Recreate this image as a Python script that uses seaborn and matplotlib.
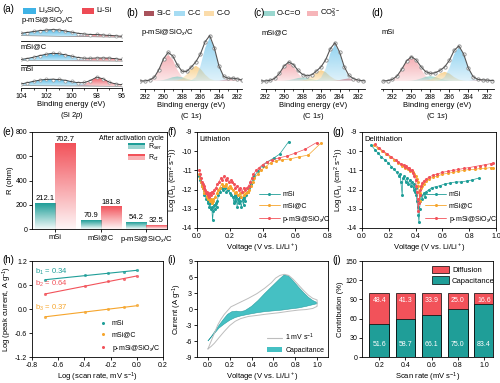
import numpy as np
import pandas as pd
import seaborn as sns
import matplotlib.pyplot as plt
import matplotlib.colors as mcolors
import matplotlib.ticker as mticker
from matplotlib.patches import Polygon, Rectangle, Patch
from matplotlib.lines import Line2D

# ---------------- data ----------------
# (a) Si 2p, binding energy grid (eV) and fitted parts for the three samples
si_e = [104, 103.5, 103, 102.5, 102, 101.5, 101, 100.5, 100, 99.5, 99, 98.5, 98, 97.5, 97, 96.5, 96]
a1_bg = [16, 15.7, 15.4, 15.1, 14.8, 14.5, 14.2, 13.9, 13.6, 13.3, 13.0, 12.7, 12.4, 12.1, 11.8, 11.5, 11.2]
a1_lisio = [7, 10, 13, 16, 18, 19.5, 19, 16, 12, 8, 4, 2, 1, 0, 0, 0, 0]
a1_lisi = [0, 0, 0, 0, 0, 0, 0, 0, 1, 2, 4, 5, 6, 6, 5, 4, 3]
a1_raw = [24, 25, 29, 30, 34, 33, 34, 29, 27, 22, 22, 19, 21, 17, 18, 15, 14]
a2_bg = [12, 11.9, 11.8, 11.6, 11.5, 11.4, 11.2, 11.1, 11.0, 10.9, 10.8, 10.6, 10.5, 10.4, 10.2, 10.1, 10.0]
a2_lisio = [3, 6, 10, 15, 19, 22, 21, 18, 13, 8, 4, 2, 1, 0, 0, 0, 0]
a2_lisi = [0, 0, 0, 0, 0, 0, 0, 0, 1, 2, 4, 6, 8, 9, 9, 7, 5]
a2_raw = [16, 17, 23, 26, 31, 33, 33, 28, 26, 20, 20, 18, 20, 19, 20, 16, 15]
a3_bg = [7, 6.9, 6.8, 6.6, 6.5, 6.4, 6.2, 6.1, 6.0, 5.9, 5.8, 5.6, 5.5, 5.4, 5.2, 5.1, 5.0]
a3_lisio = [5, 9, 13, 17, 19, 20, 19, 17, 13, 9, 5, 2, 1, 0, 0, 0, 0]
a3_lisi = [0, 0, 0, 0, 0, 0, 0, 0, 0, 1, 5, 15, 26, 22, 12, 7, 5]
a3_raw = [13, 15, 21, 23, 26, 25, 26, 22, 20, 15, 17, 22, 33, 28, 18, 12, 10]

# (b)-(d) C 1s components
c1s_e = [293, 292.5, 292, 291.5, 291, 290.5, 290, 289.5, 289, 288.5, 288, 287.5, 287,
         286.5, 286, 285.5, 285, 284.5, 284, 283.5, 283, 282.5, 282, 281.5, 281]
b_sic = [0, 0, 0, 0, 0, 0, 0, 0, 0, 0, 0, 0, 0, 0, 0, 0, 0, 0, 0.7, 2.7, 6, 8, 6, 2.7, 0.7]
b_cc = [0, 0, 0, 0, 0, 0, 0, 0, 0, 0, 0, 0, 1.7, 11, 44, 97, 128, 97, 44, 11, 1.7, 0, 0, 0, 0]
b_co = [0, 0, 0, 0, 0, 0, 0, 0, 0, 1.5, 6.6, 19, 36, 45, 36, 19, 6.6, 1.5, 0, 0, 0, 0, 0, 0, 0]
b_oco = [0, 0, 0, 0, 0, 0.8, 2.7, 6.5, 11, 13, 11, 6.5, 2.7, 0.8, 0, 0, 0, 0, 0, 0, 0, 0, 0, 0, 0]
b_co3 = [0, 0, 0, 2.6, 11, 33, 63, 78, 63, 33, 11, 2.6, 0.4, 0, 0, 0, 0, 0, 0, 0, 0, 0, 0, 0, 0]
c_sic = [0, 0, 0, 0, 0, 0, 0, 0, 0, 0, 0, 0, 0, 0, 0, 0, 0, 0.6, 2.4, 5.3, 7, 5.3, 2.4, 0.6, 0]
c_cc = [0, 0, 0, 0, 0, 0, 0, 0, 0, 0, 0, 0, 0, 1.4, 9.4, 37, 82, 108, 82, 37, 9.4, 1.4, 0, 0, 0]
c_co = [0, 0, 0, 0, 0, 0, 0, 0, 0, 0, 1.1, 4.7, 13.4, 26, 32, 26, 13.4, 4.7, 1.1, 0, 0, 0, 0, 0, 0]
c_oco = [0, 0, 0, 0, 0, 0, 0.6, 2.1, 5, 8.4, 10, 8.4, 5, 2.1, 0.6, 0, 0, 0, 0, 0, 0, 0, 0, 0, 0]
c_co3 = [0, 0, 0, 1.8, 7.9, 22.7, 43.7, 54, 43.7, 22.7, 7.9, 1.8, 0, 0, 0, 0, 0, 0, 0, 0, 0, 0, 0, 0, 0]
d_sic = [0, 0, 0, 0, 0, 0, 0, 0, 0, 0, 0, 0, 0, 0, 0, 0, 0, 0, 0, 1, 2.3, 3, 2.3, 1, 0]
d_cc = [0, 0, 0, 0, 0, 0, 0, 0, 0, 0, 0, 0, 2.1, 11.6, 38, 79, 100, 79, 38, 11.6, 2.1, 0, 0, 0, 0]
d_co = [0, 0, 0, 0, 0, 0, 0, 0, 0, 0.9, 3.9, 11.3, 21.9, 27, 21.9, 11.3, 3.9, 0.9, 0, 0, 0, 0, 0, 0, 0]
d_oco = [0, 0, 0, 0, 0, 0, 0.9, 2.9, 7, 11.8, 14, 11.8, 7, 2.9, 0.9, 0, 0, 0, 0, 0, 0, 0, 0, 0, 0]
d_co3 = [0, 0.9, 4.4, 14.9, 35.5, 59.6, 71, 59.6, 35.5, 14.9, 4.4, 0.9, 0, 0, 0, 0, 0, 0, 0, 0, 0, 0, 0, 0, 0]

# (e) resistances after activation cycle
e_cats = ['mSi', 'mSi@C', 'p-mSi@SiO$_x$/C']
e_rser = [212.1, 70.9, 54.2]
e_rct = [702.7, 181.8, 32.5]

# (f) GITT lithiation (V, log D)
f_msi = [(0.56, -9.5), (0.505, -10.15), (0.47, -10.35), (0.43, -10.55), (0.40, -10.75), (0.37, -11.05),
         (0.35, -11.3), (0.34, -11.45), (0.33, -11.7), (0.32, -11.9), (0.31, -12.1), (0.30, -12.3),
         (0.295, -12.6), (0.29, -12.4), (0.285, -12.8), (0.28, -12.5), (0.27, -12.9), (0.265, -12.6),
         (0.26, -12.4), (0.255, -12.7), (0.25, -12.5), (0.245, -12.9), (0.24, -12.4), (0.235, -12.6),
         (0.23, -12.3), (0.225, -12.7), (0.22, -12.4), (0.21, -12.3), (0.20, -12.2), (0.19, -12.0),
         (0.18, -12.1), (0.17, -11.9), (0.16, -12.0), (0.15, -11.9), (0.14, -12.1), (0.13, -12.3),
         (0.125, -12.6), (0.12, -12.9), (0.115, -12.7), (0.11, -13.0), (0.105, -12.8), (0.10, -13.1),
         (0.095, -13.6), (0.09, -12.9), (0.085, -13.0), (0.08, -12.7), (0.075, -12.9), (0.07, -12.6),
         (0.065, -12.7), (0.06, -12.4), (0.055, -12.5), (0.05, -12.2), (0.045, -12.3), (0.04, -12.0),
         (0.035, -11.9), (0.03, -11.8), (0.025, -11.6), (0.02, -11.5), (0.015, -11.3)]
f_msic = [(0.76, -9.55), (0.68, -10.2), (0.62, -10.3), (0.57, -10.4), (0.52, -10.45), (0.48, -10.5),
          (0.45, -10.6), (0.42, -10.8), (0.39, -11.0), (0.37, -11.2), (0.35, -11.4), (0.34, -11.6),
          (0.33, -11.8), (0.32, -12.0), (0.31, -12.1), (0.30, -12.2), (0.29, -12.3), (0.28, -12.1),
          (0.27, -12.4), (0.26, -12.2), (0.25, -12.3), (0.24, -12.1), (0.23, -12.2), (0.22, -12.0),
          (0.21, -11.9), (0.20, -11.8), (0.19, -11.9), (0.18, -11.7), (0.17, -11.8), (0.16, -11.8),
          (0.15, -11.7), (0.14, -11.9), (0.13, -12.0), (0.12, -12.2), (0.11, -12.4), (0.10, -12.6),
          (0.095, -12.5), (0.09, -12.7), (0.085, -12.5), (0.08, -12.6), (0.075, -12.4), (0.07, -12.5),
          (0.065, -12.3), (0.06, -12.4), (0.055, -12.2), (0.05, -12.1), (0.045, -12.2), (0.04, -12.0),
          (0.035, -11.9), (0.03, -11.8), (0.025, -11.6), (0.02, -11.4), (0.015, -11.2)]
f_pm = [(0.73, -9.55), (0.66, -9.9), (0.60, -10.1), (0.55, -10.25), (0.50, -10.35), (0.46, -10.45),
        (0.43, -10.55), (0.40, -10.7), (0.38, -10.85), (0.36, -11.0), (0.345, -11.2), (0.335, -11.4),
        (0.325, -11.6), (0.315, -11.8), (0.305, -11.9), (0.295, -12.0), (0.285, -11.9), (0.275, -12.1),
        (0.265, -11.9), (0.255, -12.0), (0.245, -11.8), (0.235, -11.9), (0.225, -11.7), (0.215, -11.6),
        (0.205, -11.5), (0.195, -11.6), (0.185, -11.4), (0.175, -11.5), (0.165, -11.3), (0.155, -11.5),
        (0.145, -11.4), (0.135, -11.6), (0.125, -11.7), (0.115, -11.9), (0.105, -12.0), (0.095, -12.2),
        (0.09, -12.1), (0.085, -12.3), (0.08, -12.2), (0.075, -12.4), (0.07, -12.2), (0.065, -12.3),
        (0.06, -12.1), (0.055, -12.2), (0.05, -12.0), (0.045, -11.9), (0.04, -11.8), (0.035, -11.7),
        (0.03, -11.6), (0.025, -11.4), (0.02, -11.2), (0.015, -11.0)]

# (g) GITT delithiation (V, log D)
g_msi = [(0.07, -9.7), (0.10, -9.95), (0.12, -10.1), (0.145, -10.3), (0.17, -10.45), (0.195, -10.6),
         (0.22, -10.8), (0.24, -10.95), (0.26, -11.1), (0.275, -11.3), (0.285, -11.2), (0.29, -11.6),
         (0.30, -12.3), (0.305, -11.4), (0.315, -11.3), (0.325, -11.6), (0.335, -11.4), (0.345, -11.7),
         (0.355, -11.5), (0.365, -11.8), (0.375, -11.6), (0.385, -12.0), (0.39, -11.7), (0.395, -12.1),
         (0.40, -11.9), (0.405, -12.3), (0.41, -12.6), (0.415, -12.9), (0.42, -13.3), (0.425, -13.7),
         (0.43, -13.0), (0.435, -12.6), (0.44, -12.3), (0.45, -12.5), (0.46, -12.2), (0.47, -12.4),
         (0.48, -12.1), (0.50, -12.0), (0.52, -11.9), (0.55, -11.85), (0.58, -11.8), (0.62, -11.7),
         (0.66, -11.65), (0.70, -11.6), (0.74, -11.6), (0.78, -11.55), (0.82, -11.5), (0.87, -11.4)]
g_msic = [(0.09, -9.7), (0.12, -9.85), (0.15, -10.0), (0.18, -10.15), (0.21, -10.3), (0.24, -10.45),
          (0.27, -10.6), (0.30, -10.75), (0.32, -10.85), (0.34, -10.95), (0.36, -11.05), (0.38, -11.1),
          (0.39, -11.2), (0.40, -11.3), (0.41, -11.45), (0.415, -11.6), (0.42, -11.8), (0.425, -12.1),
          (0.43, -12.6), (0.435, -12.2), (0.44, -11.9), (0.45, -11.8), (0.46, -11.7), (0.48, -11.55),
          (0.50, -11.45), (0.53, -11.35), (0.56, -11.3), (0.60, -11.2), (0.64, -11.15), (0.68, -11.1),
          (0.72, -11.05), (0.76, -11.0), (0.80, -10.95), (0.84, -10.95), (0.88, -10.9), (0.92, -10.9),
          (0.96, -10.85), (0.98, -10.85)]
g_pm = [(0.095, -9.65), (0.13, -9.85), (0.16, -10.0), (0.19, -10.15), (0.22, -10.3), (0.25, -10.45),
        (0.27, -10.55), (0.29, -10.65), (0.31, -10.7), (0.32, -10.8), (0.33, -10.75), (0.34, -10.9),
        (0.35, -10.85), (0.36, -11.0), (0.37, -11.0), (0.38, -11.15), (0.39, -11.3), (0.40, -11.5),
        (0.405, -11.8), (0.41, -12.1), (0.415, -12.5), (0.42, -13.1), (0.425, -12.7), (0.43, -12.3),
        (0.435, -12.0), (0.44, -11.8), (0.45, -11.65), (0.46, -11.55), (0.48, -11.45), (0.50, -11.35),
        (0.53, -11.25), (0.56, -11.2), (0.60, -11.1), (0.64, -11.05), (0.68, -11.0), (0.72, -10.95),
        (0.76, -10.9), (0.80, -10.85), (0.84, -10.8), (0.88, -10.75), (0.92, -10.7), (0.96, -10.65),
        (0.98, -10.6)]

# (h) peak current vs scan rate
h_rate = [0.2, 0.4, 0.6, 0.8, 1.0]
h_msi = [0.73, 0.84, 0.89, 0.93, 0.97]
h_msic = [-0.19, -0.08, -0.01, 0.04, 0.09]
h_pm = [0.37, 0.58, 0.69, 0.76, 0.82]

# (i) CV at 1 mV/s and capacitive part
cv_up_v = [0.0, 0.03, 0.06, 0.09, 0.12, 0.15, 0.18, 0.21, 0.25, 0.30, 0.37, 0.45, 0.52, 0.58, 0.62,
           0.66, 0.70, 0.74, 0.78, 0.83, 0.88, 0.92, 0.96, 1.0]
cv_up_i = [-7.5, -6.0, -4.5, -3.0, -1.9, -1.0, -0.3, 0.4, 0.8, 1.3, 2.0, 2.9, 3.9, 4.9, 5.8,
           6.3, 6.5, 6.3, 5.6, 4.5, 3.4, 2.6, 2.0, 1.7]
cv_dn_v = [1.0, 0.96, 0.9, 0.83, 0.75, 0.65, 0.52, 0.45, 0.37, 0.30, 0.25, 0.20, 0.15, 0.10, 0.06, 0.03, 0.0]
cv_dn_i = [0.5, 0.1, -0.1, -0.2, -0.4, -0.7, -1.0, -1.2, -1.4, -1.8, -2.3, -3.1, -4.2, -5.4, -6.4, -7.0, -7.5]
cap_up_v = [0.0, 0.03, 0.06, 0.10, 0.14, 0.18, 0.22, 0.26, 0.30, 0.34, 0.40, 0.46, 0.52, 0.57, 0.62,
            0.66, 0.70, 0.74, 0.78, 0.83, 0.88, 0.92, 0.96, 1.0]
cap_up_i = [-6.0, -5.2, -4.3, -3.1, -2.0, -1.0, -0.5, -0.4, -0.5, -0.3, 0.5, 1.6, 2.9, 3.9, 4.9,
            5.7, 6.4, 6.2, 5.3, 4.1, 3.0, 2.2, 1.6, 1.2]
cap_dn_v = [1.0, 0.96, 0.9, 0.83, 0.75, 0.68, 0.6, 0.52, 0.45, 0.37, 0.30, 0.25, 0.20, 0.15, 0.10, 0.06, 0.03, 0.0]
cap_dn_i = [1.0, 0.8, 0.5, 0.2, 0.0, -0.2, -0.35, -0.5, -0.7, -1.0, -1.3, -1.6, -2.1, -2.8, -3.6, -4.6, -5.3, -6.0]

# (j) contribution ratio
j_rate = ['0.2', '0.4', '0.6', '0.8', '1.0']
j_cap = [51.6, 58.7, 66.1, 75.0, 83.4]
j_dif = [48.4, 41.3, 33.9, 25.0, 16.6]

# ---------------- style ----------------
TEAL = '#1f9e98'
RED = '#f2525a'
ORANGE = '#f6a52c'
BLUE_A = '#3fb3e6'
RED_A = '#ee4b55'
C_SIC, C_CC, C_CO, C_OCO, C_CO3 = '#c2606a', '#7fcbee', '#f7c978', '#86cfc6', '#f3a0a6'

sns.set_theme(style='ticks')
plt.rcParams['font.family'] = ['Liberation Sans', 'DejaVu Sans']
plt.rcParams.update({
    'mathtext.fontset': 'custom', 'mathtext.rm': 'Liberation Sans',
    'mathtext.it': 'Liberation Sans:italic', 'mathtext.bf': 'Liberation Sans:bold',
    'axes.linewidth': 0.6, 'axes.edgecolor': 'black', 'text.color': 'black',
    'axes.labelcolor': 'black', 'xtick.color': 'black', 'ytick.color': 'black',
    'xtick.major.width': 0.6, 'ytick.major.width': 0.6, 'xtick.minor.width': 0.5,
    'xtick.major.size': 2, 'ytick.major.size': 2, 'xtick.minor.size': 1.2,
    'xtick.labelsize': 5, 'ytick.labelsize': 5, 'axes.labelsize': 5.5,
    'xtick.major.pad': 1.5, 'ytick.major.pad': 1.5, 'axes.labelpad': 1,
    'legend.fontsize': 5, 'axes.unicode_minus': False,
})

W, H = 500, 383
fig = plt.figure(figsize=(5, 3.83), dpi=100)


def add_ax(x0, y0, x1, y1):
    return fig.add_axes([x0 / W, 1 - y1 / H, (x1 - x0) / W, (y1 - y0) / H])


def ftext(x, y, s, **kw):
    kw.setdefault('fontsize', 5)
    kw.setdefault('va', 'center')
    fig.text(x / W, 1 - y / H, s, **kw)


def frect(x0, y0, x1, y1, color):
    fig.add_artist(Rectangle((x0 / W, 1 - y1 / H), (x1 - x0) / W, (y1 - y0) / H,
                             transform=fig.transFigure, facecolor=color, edgecolor='none'))


def grad_fill(ax, x, lo, hi, color, top=0.95, bot=0.2, z=2):
    x = np.asarray(x, float)
    lo = np.asarray(lo, float)
    hi = np.asarray(hi, float)
    verts = np.concatenate([np.column_stack([x, hi]), np.column_stack([x[::-1], lo[::-1]])])
    poly = Polygon(verts, closed=True, facecolor='none', edgecolor='none')
    ax.add_patch(poly)
    img = np.zeros((64, 1, 4))
    img[..., :3] = mcolors.to_rgb(color)
    img[:, 0, 3] = np.linspace(top, bot, 64)
    im = ax.imshow(img, extent=[x.min(), x.max(), lo.min(), hi.max()], aspect='auto',
                   origin='upper', zorder=z, interpolation='bilinear')
    im.set_clip_path(poly)


def grad_box(ax, x0, x1, y0, y1, color, top=1.0, bot=0.06, z=2):
    img = np.zeros((64, 1, 4))
    img[..., :3] = mcolors.to_rgb(color)
    img[:, 0, 3] = np.linspace(top, bot, 64)
    ax.imshow(img, extent=[x0, x1, y0, y1], aspect='auto', origin='upper', zorder=z,
              interpolation='bilinear', clip_on=False)


def only_bottom(ax):
    for s in ['top', 'left', 'right']:
        ax.spines[s].set_visible(False)
    ax.set_yticks([])
    ax.set_facecolor('none')


# ---------------- (a) Si 2p ----------------
a_axes = [add_ax(21, 16, 122, 41), add_ax(21, 41, 122, 64.5), add_ax(21, 64.5, 122, 88)]
a_sets = [(a1_bg, a1_lisio, a1_lisi, a1_raw, 'p-mSi@SiO$_x$/C', 75, 0.8),
          (a2_bg, a2_lisio, a2_lisi, a2_raw, 'mSi@C', 70, 0.745),
          (a3_bg, a3_lisio, a3_lisi, a3_raw, 'mSi', 70, 0.77)]
for k, (ax, (bg, bl, rd, raw, name, top, ly)) in enumerate(zip(a_axes, a_sets)):
    ax.set_xlim(104, 96)
    ax.set_ylim(0, top)
    bg, bl, rd = np.array(bg), np.array(bl), np.array(rd)
    grad_fill(ax, si_e, bg, bg + bl, BLUE_A, top=0.95, bot=0.25)
    grad_fill(ax, si_e, bg, bg + rd, RED_A, top=0.95, bot=0.25)
    ax.plot(si_e, bg, color='#777777', lw=0.4, zorder=3)
    ax.plot(si_e, raw, 'o', ms=2.3, mfc='white', mec='#9a9a9a', mew=0.5, zorder=4)
    ax.plot(si_e, bg + bl + rd, color='#333333', lw=0.6, zorder=5)
    only_bottom(ax)
    ax.text(0.0, ly, name, transform=ax.transAxes, fontsize=5.5, va='center')
    ax.xaxis.set_major_locator(mticker.MultipleLocator(2))
    ax.xaxis.set_minor_locator(mticker.MultipleLocator(1))
    if k < 2:
        ax.tick_params(axis='x', which='both', bottom=False, labelbottom=False)
a_axes[2].set_xlabel('Binding energy (eV)\n(Si 2$\\it{p}$)', linespacing=1.25)

ftext(2, 9, '(a)', fontsize=7)
frect(23, 8, 36, 14, BLUE_A)
ftext(38, 11, 'Li$_x$SiO$_y$', fontsize=5.5)
frect(82, 8, 94, 14, RED_A)
ftext(96, 11, 'Li-Si', fontsize=5.5)

# ---------------- (b)-(d) C 1s ----------------
c_cols = [C_CO3, C_OCO, C_CO, C_CC, C_SIC]
panels = [((140, 27, 242, 89), (292.55, 281.5), [b_co3, b_oco, b_co, b_cc, b_sic], 'p-mSi@SiO$_x$/C', 141),
          ((261, 27, 365, 89), (292.5, 281.25), [c_co3, c_oco, c_co, c_cc, c_sic], 'mSi@C', 262),
          ((381, 27, 494, 89), (293.2, 281.3), [d_co3, d_oco, d_co, d_cc, d_sic], 'mSi', 382)]
zero = np.zeros(len(c1s_e))
for rect, xl, comps, name, lx in panels:
    ax = add_ax(*rect)
    ax.set_xlim(*xl)
    ax.set_ylim(-24, 160)
    for comp, col in zip(comps, c_cols):
        grad_fill(ax, c1s_e, zero, comp, col, top=0.85, bot=0.25)
    env = np.sum(np.array(comps), axis=0)
    ax.plot(c1s_e, env, 'o', ms=2.4, mfc='white', mec='#8a8a8a', mew=0.6, zorder=4)
    ax.plot(c1s_e, env, color='#555555', lw=0.8, zorder=5)
    only_bottom(ax)
    ax.xaxis.set_major_locator(mticker.MultipleLocator(2))
    ax.xaxis.set_minor_locator(mticker.MultipleLocator(1))
    ax.tick_params(axis='x', labelsize=4.8)
    ax.set_xlabel('Binding energy (eV)\n(C 1$\\it{s}$)', linespacing=1.25)
    ftext(lx, 33, name, fontsize=5.5)

ftext(126, 13, '(b)', fontsize=7)
frect(144, 11, 154, 16, '#a9525b')
ftext(157, 13.5, 'Si-C', fontsize=5.5)
frect(174, 11, 185, 16, '#a6dcf3')
ftext(188, 13.5, 'C-C', fontsize=5.5)
frect(204, 11, 214, 16, '#fbdcaa')
ftext(217, 13.5, 'C-O', fontsize=5.5)
ftext(253, 13, '(c)', fontsize=7)
frect(263, 11, 275, 16, '#9ad7cf')
ftext(277, 13.5, 'O-C=O', fontsize=5.5)
frect(307, 11, 318, 16, '#f6b5b9')
ftext(320, 13.5, 'CO$_3^{2-}$', fontsize=5.5)
ftext(371, 13, '(d)', fontsize=7)

# ---------------- (e) resistance ----------------
ax = add_ax(32, 132, 167, 229)
e_pos = np.arange(len(e_cats))
ax.set_xlim(-0.5, 2.45)
ax.set_ylim(0, 800)
bw = 0.44
for p, rs, rc in zip(e_pos, e_rser, e_rct):
    grad_box(ax, p - bw, p, 0, rs, TEAL)
    grad_box(ax, p, p + bw, 0, rc, RED)
    ax.text(p - bw / 2, rs + 8, f'{rs}', ha='center', va='bottom', fontsize=5.5)
    ax.text(p + bw / 2, rc + 8, f'{rc}', ha='center', va='bottom', fontsize=5.5)
ax.set_xticks(e_pos)
ax.set_xticklabels(e_cats)
ax.yaxis.set_major_locator(mticker.MultipleLocator(200))
ax.set_ylabel('R (ohm)')
ax.tick_params(axis='x', labelsize=5.5)
ftext(2, 132, '(e)', fontsize=7)
ftext(164, 139, 'After activation cycle', fontsize=5, ha='right')
frect(128, 143, 145, 145, TEAL)
frect(128, 145, 145, 149, '#9bd3cf')
ftext(148, 147, 'R$_{ser}$', fontsize=5)
frect(128, 154, 145, 156, RED)
frect(128, 156, 145, 160, '#f9b1b4')
ftext(148, 158, 'R$_{ct}$', fontsize=5)

# ---------------- (f), (g) GITT ----------------
gitt_cols = [TEAL, ORANGE, RED]
gitt_names = ['mSi', 'mSi@C', 'p-mSi@SiO$_x$/C']


def gitt(ax, sets, xmax, title):
    for z, (pairs, col) in enumerate(zip(sets, gitt_cols)):
        df = pd.DataFrame(pairs, columns=['v', 'd'])
        sns.lineplot(data=df, x='v', y='d', ax=ax, sort=False, estimator=None, color=col,
                     lw=0.5, marker='o', markersize=2.2, markeredgewidth=0, zorder=3 + z)
    ax.set_xlim(0, xmax)
    ax.set_ylim(-14, -9)
    ax.xaxis.set_major_locator(mticker.MultipleLocator(0.2))
    ax.yaxis.set_major_locator(mticker.MultipleLocator(1))
    ax.set_xlabel('Voltage (V vs. Li/Li$^+$)')
    ax.set_ylabel('Log (D$_{\\rm Li}$ (cm$^2$ s$^{-1}$))')
    ax.text(0.02, 0.92, title, transform=ax.transAxes, fontsize=5.5, va='center')
    hs = [Line2D([], [], color=c, lw=0.6, marker='o', ms=2.2, mew=0) for c in gitt_cols]
    ax.legend(hs, gitt_names, loc='lower left', bbox_to_anchor=(0.44, -0.01), frameon=False,
              handlelength=3, handletextpad=0.4, labelspacing=0.6, borderaxespad=0.2)


ax_f = add_ax(197, 132, 328, 228)
gitt(ax_f, [f_msi, f_msic, f_pm], 0.8, 'Lithiation')
ax_g = add_ax(362, 132, 496, 228)
gitt(ax_g, [g_msi, g_msic, g_pm], 1.0, 'Delithiation')
ftext(167, 132, '(f)', fontsize=7)
ftext(332, 132, '(g)', fontsize=7)

# ---------------- (h) b-values ----------------
ax = add_ax(32, 261, 163, 357)
h_logv = np.log10(h_rate)
for ys, col in zip([h_msi, h_msic, h_pm], gitt_cols):
    sns.regplot(x=h_logv, y=ys, ax=ax, ci=None, truncate=True, color=col,
                scatter_kws=dict(s=5, linewidths=0), line_kws=dict(lw=0.8))
ax.set_xlim(-0.8, 0.2)
ax.set_ylim(-1.2, 1.2)
ax.xaxis.set_major_locator(mticker.MultipleLocator(0.2))
ax.yaxis.set_major_locator(mticker.MultipleLocator(0.6))
ax.set_xlabel('Log (scan rate, mV s$^{-1}$)')
ax.set_ylabel('Log (peak current, A g$^{-1}$)')
hs = [Line2D([], [], color=c, lw=0, marker='o', ms=2.2, mew=0) for c in gitt_cols]
ax.legend(hs, gitt_names, loc='lower left', bbox_to_anchor=(0.48, -0.01), frameon=False,
          handlelength=1.2, handletextpad=0.6, labelspacing=0.6, borderaxespad=0.2)
ftext(2, 260, '(h)', fontsize=7)
ftext(35, 272, 'b$_1$ = 0.34', color=TEAL, fontsize=5.5)
ftext(35, 284, 'b$_2$ = 0.64', color=RED, fontsize=5.5)
ftext(35, 308, 'b$_3$ = 0.37', color=ORANGE, fontsize=5.5)

# ---------------- (i) CV ----------------
ax = add_ax(197, 261, 328, 357)
cap_v = list(cap_up_v) + list(cap_dn_v)
cap_i = list(cap_up_i) + list(cap_dn_i)
ax.fill(cap_v, cap_i, facecolor='#45c0c3', edgecolor='#2a9fa2', lw=0.4, zorder=2)
sns.lineplot(x=list(cv_up_v) + list(cv_dn_v), y=list(cv_up_i) + list(cv_dn_i), ax=ax, sort=False,
             estimator=None, color='#bdbdbd', lw=0.7, zorder=3)
ax.set_xlim(-0.1, 1.1)
ax.set_ylim(-9, 9)
ax.xaxis.set_major_locator(mticker.MultipleLocator(0.2))
ax.yaxis.set_major_locator(mticker.MultipleLocator(3))
ax.set_xlabel('Voltage (V vs. Li/Li$^+$)')
ax.set_ylabel('Current (A g$^{-1}$)')
hs = [Line2D([], [], color='#bdbdbd', lw=0.8), Patch(facecolor='#45c0c3', edgecolor='none')]
ax.legend(hs, ['1 mV s$^{-1}$', 'Capacitance'], loc='lower left', bbox_to_anchor=(0.5, -0.01),
          frameon=False, handlelength=2.2, handletextpad=0.5, labelspacing=0.5, borderaxespad=0.2)
ftext(167, 260, '(i)', fontsize=7)

# ---------------- (j) contribution ----------------
ax = add_ax(362, 261, 493, 357)
j_total = [c + d for c, d in zip(j_cap, j_dif)]
sns.barplot(x=j_rate, y=j_total, ax=ax, color=RED, saturation=1, width=0.75,
            edgecolor='black', linewidth=0.5)
sns.barplot(x=j_rate, y=j_cap, ax=ax, color=TEAL, saturation=1, width=0.75,
            edgecolor='black', linewidth=0.5)
for k, (c, d) in enumerate(zip(j_cap, j_dif)):
    ax.text(k, 20, f'{c:.1f}', ha='center', va='center', color='white', fontsize=5)
    ax.text(k, 89, f'{d:.1f}', ha='center', va='center', color='white', fontsize=5)
ax.set_xlim(-0.66, 4.35)
ax.set_ylim(0, 150)
ax.yaxis.set_major_locator(mticker.MultipleLocator(30))
ax.set_xlabel('Scan rate (mV s$^{-1}$)')
ax.set_ylabel('Contribution (%)')
hs = [Patch(facecolor=RED, edgecolor='black', lw=0.5), Patch(facecolor=TEAL, edgecolor='black', lw=0.5)]
ax.legend(hs, ['Diffusion', 'Capacitance'], loc='upper left', bbox_to_anchor=(0.5, 1.0),
          frameon=False, handlelength=2.2, handleheight=1.2, handletextpad=0.4, labelspacing=0.3,
          borderaxespad=0.2, fontsize=5.5)
ftext(332, 260, '(j)', fontsize=7)

fig.savefig('out.png', dpi=100)
